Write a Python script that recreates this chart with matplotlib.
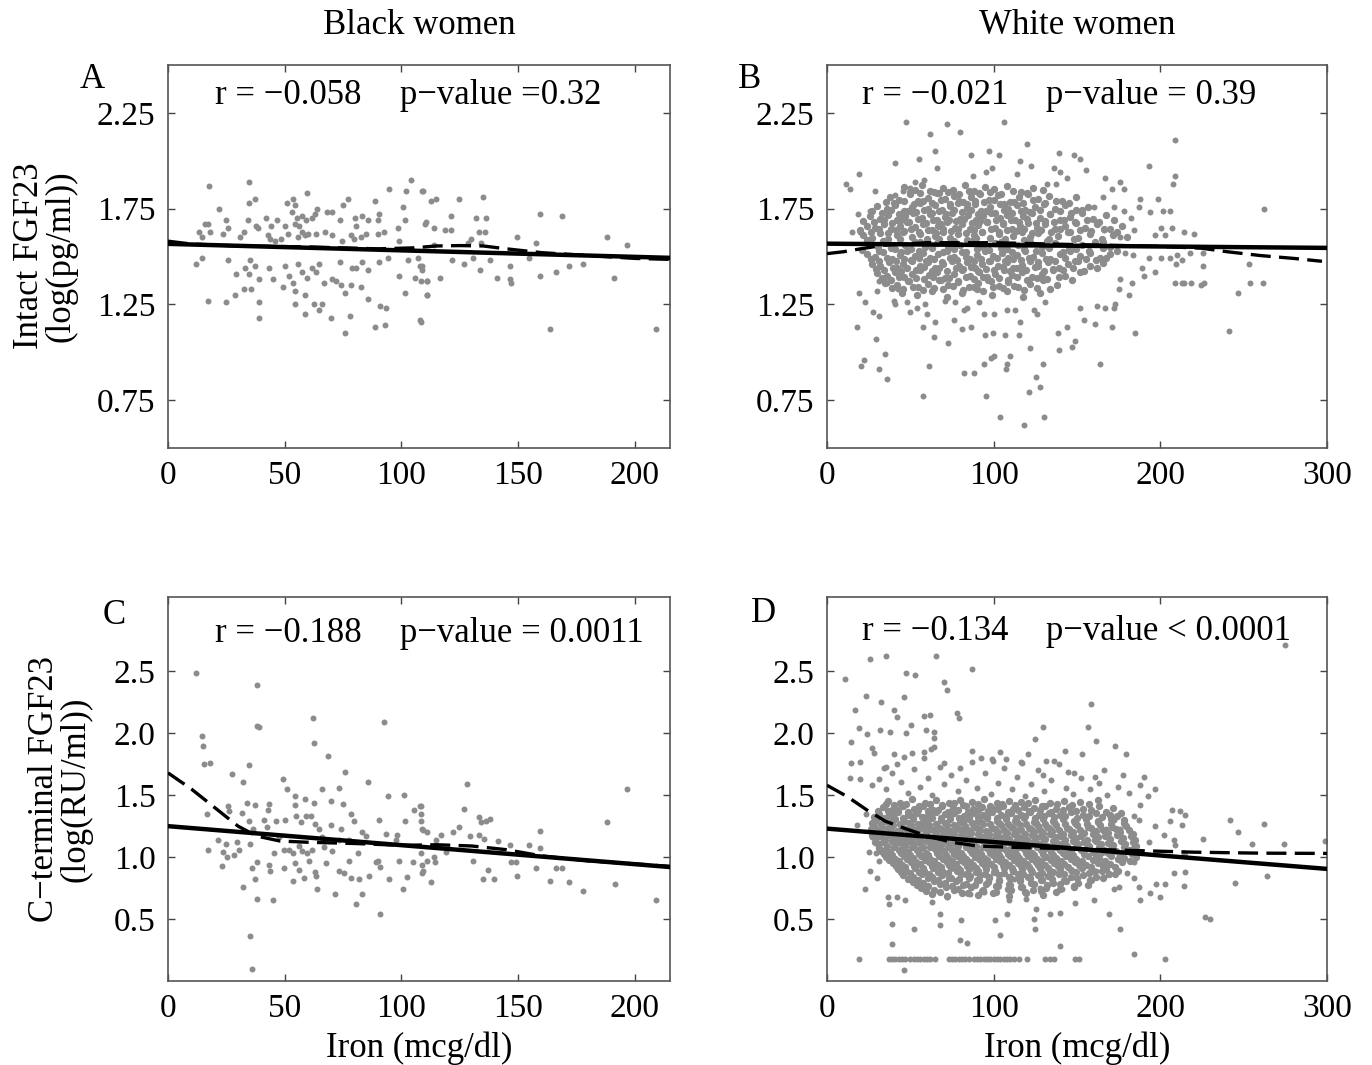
import numpy as np
import matplotlib
matplotlib.use("Agg")
import matplotlib.pyplot as plt

plt.rcParams["font.family"] = ["Liberation Serif", "DejaVu Serif"]
plt.rcParams["axes.unicode_minus"] = True

W, H = 1372, 1065

# ---- data (iron mcg/dl, log FGF23) ----
a_points = [
    (17.5, 1.87), (34.9, 1.89), (34.8, 1.78), (37.2, 1.80), (21.8, 1.75), (16, 1.67), (17, 1.67), (24.7, 1.69),
    (25.9, 1.65), (23.4, 1.62), (13.4, 1.63), (17.8, 1.63), (14.7, 1.60), (30.7, 1.60), (32.5, 1.63), (34.3, 1.69),
    (37.9, 1.66), (38.5, 1.65), (42, 1.70), (44, 1.66), (46.7, 1.69), (42.7, 1.61), (43.7, 1.59), (50, 1.66),
    (51, 1.78), (53.4, 1.80), (54.6, 1.77), (59.5, 1.83), (53.2, 1.73), (55.3, 1.70), (57.5, 1.71), (58.9, 1.69),
    (61.8, 1.70), (62.8, 1.72), (63.9, 1.75), (54.2, 1.67), (56.3, 1.66), (57.2, 1.63), (58.6, 1.61), (55.5, 1.60),
    (59.9, 1.62), (63.2, 1.62), (51.3, 1.62), (48.3, 1.59), (46, 1.58), (68.2, 1.73), (70.1, 1.73), (67.2, 1.63),
    (70.4, 1.61), (73.8, 1.69), (75, 1.77), (77.3, 1.80), (80, 1.70), (80.7, 1.66), (83, 1.71), (85.5, 1.69),
    (78.3, 1.61), (79.7, 1.59), (82.6, 1.60), (84.8, 1.62), (74.7, 1.58), (88.5, 1.79), (90.5, 1.72), (89.8, 1.69),
    (92.7, 1.63), (90.1, 1.62), (94.5, 1.85), (100.6, 1.76), (101.9, 1.84), (104, 1.90), (109.2, 1.84), (101.3, 1.69),
    (98.3, 1.65), (99.1, 1.58), (110.6, 1.68),
    (12.1, 1.46), (14.7, 1.49), (25.7, 1.48), (17, 1.27), (24.9, 1.26), (28.7, 1.30), (29.2, 1.41), (32.5, 1.33),
    (35.5, 1.33), (34.5, 1.41), (35.2, 1.48), (32.8, 1.44), (37.4, 1.45), (38.8, 1.38), (39.1, 1.26), (39.1, 1.18),
    (43.4, 1.44), (45, 1.38), (49.3, 1.34), (50.3, 1.45), (52, 1.40), (53.4, 1.36), (54.3, 1.32), (54.3, 1.25),
    (55.5, 1.46), (58.6, 1.30), (58.5, 1.20), (57.5, 1.42), (59.6, 1.39), (61.8, 1.44), (63.2, 1.42), (64.7, 1.46),
    (62.5, 1.25), (64.7, 1.22), (65.8, 1.25), (66.8, 1.36), (70, 1.18), (70.4, 1.38), (71.8, 1.37), (74.3, 1.35),
    (73.6, 1.47), (75.7, 1.31), (75.9, 1.10), (77.9, 1.19), (78.3, 1.35), (79, 1.44), (80.5, 1.44), (82.9, 1.47),
    (82.8, 1.34), (85.8, 1.43), (85.5, 1.28), (88.6, 1.13), (90.8, 1.24), (93.4, 1.23), (93.1, 1.14), (90.2, 1.47),
    (94.1, 1.49), (98.9, 1.40), (101.3, 1.31), (102.7, 1.48), (105.9, 1.39), (107, 1.49), (108, 1.45), (108.8, 1.43),
    (107.9, 1.17), (111, 1.37), (111, 1.30),
    (108.9, 1.84), (112.5, 1.79), (114.7, 1.80), (124.7, 1.80), (134.8, 1.81), (110.2, 1.67), (113.9, 1.65), (121, 1.71),
    (118.8, 1.64), (121.4, 1.64), (131.9, 1.70), (136.2, 1.70), (133.2, 1.63), (135.9, 1.63), (129.8, 1.59), (128.3, 1.57),
    (134.1, 1.57), (113.9, 1.56), (149.4, 1.60), (159.5, 1.72), (168.7, 1.71), (157.8, 1.57), (188.1, 1.60), (196.7, 1.56),
    (121.7, 1.48), (126.9, 1.46), (130.8, 1.49), (133.5, 1.43), (137.7, 1.48), (108.9, 1.45), (108.2, 1.37), (110.8, 1.37),
    (111.1, 1.30), (116.5, 1.39), (140.8, 1.39), (146.3, 1.45), (146.7, 1.36), (146.6, 1.38), (154.5, 1.49), (159.5, 1.40),
    (166.1, 1.42), (171.9, 1.45), (177.9, 1.46), (191.2, 1.39), (163.7, 1.12), (208.8, 1.12), (108.2, 1.16),
]

b_points = [
    (47.6, 2.20), (72, 2.19), (106, 2.20), (61.6, 2.14), (80, 2.15), (120, 2.09), (209, 2.11), (64.6, 2.05),
    (41, 1.99), (55.4, 2.01), (86.6, 2.03), (97, 2.05), (103.4, 2.03), (139, 2.04), (148.4, 2.03), (152, 2.01),
    (116, 2.00), (122.6, 1.97), (19.4, 1.93), (11.2, 1.88), (13.6, 1.85), (28.6, 1.84), (193.2, 1.97), (209, 1.92),
    (207.6, 1.88), (87.4, 1.92), (66, 1.96), (95.6, 1.94), (99, 1.96), (114, 1.93), (136, 1.96), (140, 1.94),
    (155.6, 1.95), (166.6, 1.91), (175.6, 1.89), (132, 1.88), (137.2, 1.88), (144, 1.91), (18.8, 1.72), (15, 1.63),
    (19.6, 1.63), (26, 1.74), (41, 1.82), (45.6, 1.84), (50, 1.86), (53, 1.89), (58, 1.90), (171, 1.85),
    (178, 1.85), (165.6, 1.81), (187.6, 1.80), (187, 1.76), (198.6, 1.80), (193.6, 1.73), (201.6, 1.74), (206, 1.74),
    (200.6, 1.65), (207, 1.65), (214, 1.63), (203, 1.61), (197, 1.61), (178, 1.74), (182.4, 1.70), (184, 1.64),
    (172, 1.76), (160, 1.76), (166, 1.64), (176, 1.60),
    (19.4, 1.31), (23, 1.26), (18, 1.13), (27.6, 1.21), (31, 1.19), (29.6, 1.07), (35, 0.99), (22.4, 0.96),
    (20.4, 0.93), (31.4, 0.91), (36.2, 0.86), (57.4, 0.77), (61, 0.93), (72.4, 1.05), (64, 1.08), (57.4, 1.13),
    (82, 0.89), (88, 0.89), (95.4, 0.77), (94, 0.94), (98.4, 0.97), (100, 0.98), (107.6, 0.91), (108, 0.94),
    (110, 0.98), (104, 0.66), (118, 0.62), (130.4, 0.66), (121.4, 0.79), (125.6, 0.87), (128, 0.82), (129.4, 0.94),
    (121.6, 1.02), (139, 1.01), (147, 1.03), (149, 1.06), (144, 1.13), (138.4, 1.10), (163.6, 0.94), (171.2, 1.13),
    (184.6, 1.10), (161, 1.15), (154, 1.17), (162, 1.24), (167, 1.23), (172.4, 1.23), (173, 1.25), (151.6, 1.23),
    (131, 1.26), (116, 1.16), (107, 1.09), (115, 1.09), (99.6, 1.10), (94.8, 1.09), (86.6, 1.13), (81, 1.12),
    (65, 1.16), (60, 1.20), (49.6, 1.21), (41, 1.25), (48, 1.26), (54, 1.23), (59, 1.25), (76, 1.17),
    (82, 1.22), (94, 1.20), (100, 1.20), (108, 1.22), (113, 1.22), (124, 1.22), (126, 1.20), (30, 1.32),
    (31.2, 1.37), (36, 1.36), (42.4, 1.33), (40, 1.27), (71, 1.27), (77, 1.26), (84, 1.23), (91, 1.26),
    (183, 1.36), (181, 1.30), (175, 1.33), (176, 1.38), (190, 1.40), (197, 1.42), (209, 1.36), (214.4, 1.36),
    (209.6, 1.46), (206, 1.49), (200.4, 1.49), (193, 1.49), (189, 1.44), (183.6, 1.51), (179, 1.52),
    (213, 1.36), (218.6, 1.36), (225.7, 1.45), (224.3, 1.35), (226, 1.36), (246.6, 1.31), (253, 1.46), (254, 1.36),
    (261.6, 1.36), (241, 1.11), (262, 1.75), (210, 1.51), (213, 1.48), (220, 1.62), (217.5, 1.52), (225.4, 1.52),
]

b_core = [
    (46.2, 1.862), (52.8, 1.848), (57.1, 1.871), (63.9, 1.839), (69.4, 1.858), (75.8, 1.846), (82.6, 1.874), (88.3, 1.842),
    (94.7, 1.861), (100.2, 1.851), (107.9, 1.868), (116.4, 1.838), (123.8, 1.857), (129.5, 1.846),
    (37.6, 1.812), (43.1, 1.797), (49.7, 1.824), (54.6, 1.789), (60.3, 1.808), (65.8, 1.829), (70.9, 1.801), (76.4, 1.818),
    (81.7, 1.786), (86.2, 1.812), (91.5, 1.826), (97.3, 1.796), (102.8, 1.819), (109.6, 1.787), (114.9, 1.809), (120.7, 1.828),
    (126.6, 1.798), (133.4, 1.816), (140.8, 1.791), (149.3, 1.809),
    (29.8, 1.762), (35.7, 1.748), (40.6, 1.771), (45.9, 1.739), (51.2, 1.758), (55.7, 1.779), (60.8, 1.746), (64.6, 1.768),
    (69.2, 1.741), (73.9, 1.762), (78.6, 1.781), (83.7, 1.751), (88.8, 1.772), (92.6, 1.738), (97.9, 1.757), (103.6, 1.776),
    (108.7, 1.749), (113.8, 1.769), (118.6, 1.743), (124.7, 1.761), (130.6, 1.779), (136.8, 1.748), (142.7, 1.768), (149.6, 1.742),
    (156.8, 1.759),
    (25.7, 1.712), (31.6, 1.698), (36.8, 1.719), (41.7, 1.691), (46.6, 1.709), (51.8, 1.728), (56.7, 1.702), (61.6, 1.721),
    (65.9, 1.688), (70.6, 1.707), (74.8, 1.727), (79.7, 1.697), (84.8, 1.716), (89.6, 1.689), (93.8, 1.711), (98.6, 1.729),
    (103.7, 1.699), (107.8, 1.718), (112.9, 1.692), (117.6, 1.709), (122.8, 1.726), (127.7, 1.701), (133.8, 1.721), (139.6, 1.689),
    (145.8, 1.708), (152.7, 1.728), (159.8, 1.698), (167.6, 1.716),
    (23.8, 1.661), (28.7, 1.649), (33.9, 1.672), (38.6, 1.641), (43.8, 1.659), (47.7, 1.679), (52.9, 1.652), (57.6, 1.668),
    (62.8, 1.639), (66.7, 1.661), (71.8, 1.681), (76.7, 1.648), (80.9, 1.671), (85.8, 1.642), (90.7, 1.662), (95.8, 1.678),
    (100.8, 1.651), (105.7, 1.672), (110.8, 1.641), (115.9, 1.658), (120.6, 1.677), (125.8, 1.649), (130.9, 1.668), (136.7, 1.642),
    (142.8, 1.661), (148.7, 1.679), (154.9, 1.651), (161.8, 1.669), (169.7, 1.643), (176.8, 1.661),
    (21.8, 1.612), (26.9, 1.598), (31.8, 1.621), (36.7, 1.589), (41.9, 1.611), (45.8, 1.629), (50.7, 1.602), (55.9, 1.618),
    (59.8, 1.591), (64.7, 1.609), (69.8, 1.627), (73.9, 1.597), (78.8, 1.619), (83.7, 1.588), (87.9, 1.611), (92.8, 1.628),
    (97.7, 1.599), (102.9, 1.617), (106.8, 1.592), (111.7, 1.608), (116.9, 1.626), (121.8, 1.601), (126.7, 1.621), (132.9, 1.589),
    (138.8, 1.609), (144.7, 1.627), (150.8, 1.598), (157.9, 1.618), (164.8, 1.591), (171.7, 1.612), (179.8, 1.602),
    (25.3, 1.562), (30.8, 1.548), (35.9, 1.571), (40.7, 1.541), (46.8, 1.559), (52.7, 1.578), (58.9, 1.551), (65.8, 1.569),
    (72.7, 1.542), (79.8, 1.561), (86.9, 1.579), (93.7, 1.549), (100.8, 1.568), (107.7, 1.539), (114.8, 1.558), (121.9, 1.577),
    (128.7, 1.549), (136.8, 1.571), (144.9, 1.541), (152.7, 1.562), (160.8, 1.578), (169.7, 1.551),
    (23.9, 1.512), (28.8, 1.498), (33.7, 1.521), (38.9, 1.489), (43.8, 1.509), (47.9, 1.528), (52.8, 1.501), (57.7, 1.519),
    (61.9, 1.491), (66.8, 1.511), (71.7, 1.529), (75.9, 1.499), (80.8, 1.521), (85.7, 1.488), (89.9, 1.509), (94.8, 1.528),
    (99.7, 1.502), (104.9, 1.519), (108.8, 1.491), (113.7, 1.508), (118.9, 1.527), (123.8, 1.498), (128.7, 1.518), (133.9, 1.489),
    (139.8, 1.511), (145.7, 1.529), (151.9, 1.501), (157.8, 1.519), (163.7, 1.492), (169.9, 1.512),
    (26.8, 1.461), (31.7, 1.449), (36.9, 1.472), (41.8, 1.439), (45.7, 1.461), (50.9, 1.478), (55.8, 1.451), (60.7, 1.469),
    (64.9, 1.441), (69.8, 1.459), (74.7, 1.479), (78.9, 1.448), (83.8, 1.471), (88.7, 1.442), (92.9, 1.461), (97.8, 1.477),
    (102.7, 1.452), (107.9, 1.469), (111.8, 1.439), (116.7, 1.458), (121.9, 1.478), (126.8, 1.449), (132.7, 1.471), (138.9, 1.441),
    (144.8, 1.462), (150.7, 1.479), (157.9, 1.451), (165.8, 1.468),
    (29.9, 1.412), (35.8, 1.398), (40.7, 1.421), (45.9, 1.391), (50.8, 1.409), (55.7, 1.428), (60.9, 1.401), (65.8, 1.419),
    (70.7, 1.389), (75.9, 1.411), (80.8, 1.429), (85.7, 1.398), (90.9, 1.418), (95.8, 1.392), (100.7, 1.409), (105.9, 1.427),
    (110.8, 1.401), (116.7, 1.421), (122.9, 1.391), (128.8, 1.408), (135.7, 1.428), (142.9, 1.399), (151.8, 1.419),
    (34.8, 1.362), (41.7, 1.349), (48.9, 1.371), (54.8, 1.341), (60.7, 1.359), (66.9, 1.378), (72.8, 1.351), (78.7, 1.369),
    (84.9, 1.342), (90.8, 1.361), (96.7, 1.379), (102.9, 1.348), (108.8, 1.368), (114.7, 1.341), (121.9, 1.359), (129.8, 1.378),
    (137.7, 1.351),
    (44.9, 1.311), (53.8, 1.298), (62.7, 1.321), (71.9, 1.289), (80.8, 1.309), (89.7, 1.328), (98.9, 1.301), (107.8, 1.318),
    (117.7, 1.291), (127.9, 1.309),
]

b_core_fill = [
    (49.5, 1.836), (55.9, 1.829), (61.7, 1.842), (67.3, 1.831), (72.8, 1.838), (79.1, 1.826), (85.4, 1.841), (91.2, 1.833),
    (97.8, 1.839), (104.3, 1.828), (111.6, 1.843), (119.9, 1.832),
    (35.1, 1.786), (40.4, 1.779), (46.2, 1.792), (52.1, 1.774), (57.6, 1.788), (63.2, 1.781), (68.4, 1.794), (73.6, 1.776),
    (79.2, 1.789), (84.1, 1.772), (88.9, 1.791), (94.3, 1.783), (100.1, 1.795), (106.2, 1.774), (112.3, 1.787), (117.8, 1.779),
    (123.7, 1.793), (130.1, 1.776), (137.2, 1.789), (145.1, 1.781),
    (27.1, 1.736), (32.9, 1.729), (38.1, 1.742), (43.3, 1.724), (48.4, 1.738), (53.6, 1.731), (58.2, 1.744), (62.7, 1.726),
    (67.1, 1.739), (71.5, 1.722), (76.3, 1.741), (81.2, 1.733), (86.1, 1.745), (90.7, 1.724), (95.3, 1.737), (100.6, 1.729),
    (106.1, 1.743), (111.2, 1.726), (116.2, 1.739), (121.6, 1.731), (127.7, 1.744), (133.8, 1.723), (139.7, 1.737), (146.1, 1.729),
    (153.2, 1.742),
    (21.3, 1.686), (28.2, 1.679), (34.1, 1.692), (39.2, 1.674), (44.2, 1.688), (49.1, 1.681), (54.3, 1.694), (59.1, 1.676),
    (63.8, 1.689), (68.2, 1.672), (73.2, 1.691), (77.1, 1.683), (82.3, 1.695), (87.1, 1.674), (91.9, 1.687), (96.2, 1.679),
    (101.3, 1.693), (105.8, 1.676), (110.4, 1.689), (115.3, 1.681), (120.2, 1.694), (125.3, 1.673), (130.6, 1.687), (136.2, 1.679),
    (142.4, 1.692), (149.3, 1.676), (156.2, 1.688), (163.4, 1.681), (172.1, 1.691),
    (19.9, 1.636), (26.3, 1.629), (31.2, 1.642), (36.3, 1.624), (41.1, 1.638), (45.9, 1.631), (50.3, 1.644), (55.2, 1.626),
    (60.4, 1.639), (65.1, 1.622), (69.3, 1.641), (74.2, 1.633), (78.6, 1.645), (83.3, 1.624), (88.2, 1.637), (93.1, 1.629),
    (98.3, 1.643), (103.2, 1.626), (108.2, 1.639), (113.3, 1.631), (118.4, 1.644), (123.2, 1.623), (128.3, 1.637), (134.1, 1.629),
    (139.7, 1.642), (145.8, 1.626), (151.6, 1.638), (158.3, 1.631), (166.2, 1.643), (174.1, 1.627),
    (24.2, 1.586), (33.4, 1.579), (43.9, 1.592), (55.6, 1.576), (67.2, 1.589), (76.3, 1.581), (89.6, 1.594), (104.3, 1.574),
    (118.2, 1.588), (132.1, 1.582), (148.2, 1.591), (165.3, 1.577),
    (21.1, 1.536), (31.2, 1.529), (38.2, 1.542), (44.1, 1.524), (50.3, 1.538), (55.2, 1.531), (62.9, 1.544), (69.3, 1.526),
    (76.2, 1.539), (83.4, 1.522), (90.1, 1.541), (97.2, 1.533), (104.1, 1.545), (111.2, 1.524), (118.3, 1.537), (125.4, 1.529),
    (133.2, 1.543), (141.3, 1.526), (149.1, 1.539), (157.2, 1.531), (165.3, 1.544), (174.2, 1.527),
    (26.3, 1.486), (31.3, 1.479), (36.2, 1.492), (41.3, 1.474), (46.1, 1.488), (50.2, 1.481), (55.3, 1.494), (59.6, 1.476),
    (64.3, 1.489), (69.1, 1.472), (73.6, 1.491), (78.2, 1.483), (83.1, 1.495), (87.9, 1.474), (92.2, 1.487), (97.3, 1.479),
    (102.1, 1.493), (106.8, 1.476), (111.3, 1.489), (116.2, 1.481), (121.3, 1.494), (126.4, 1.473), (131.2, 1.487), (136.7, 1.479),
    (142.6, 1.492), (148.7, 1.476), (155.1, 1.488), (161.2, 1.481), (167.3, 1.493),
    (29.2, 1.436), (34.1, 1.429), (39.3, 1.442), (44.1, 1.424), (48.2, 1.438), (53.3, 1.431), (58.1, 1.444), (62.8, 1.426),
    (67.3, 1.439), (72.2, 1.422), (77.1, 1.441), (81.3, 1.433), (86.2, 1.445), (90.8, 1.424), (95.3, 1.437), (100.2, 1.429),
    (105.3, 1.443), (109.7, 1.426), (114.2, 1.439), (119.3, 1.431), (124.6, 1.444), (130.2, 1.423), (135.8, 1.437), (141.7, 1.429),
    (147.8, 1.442), (154.3, 1.426), (161.9, 1.438),
    (33.2, 1.386), (38.3, 1.379), (43.2, 1.392), (48.3, 1.374), (53.2, 1.388), (58.3, 1.381), (63.4, 1.394), (68.2, 1.376),
    (73.3, 1.389), (78.3, 1.372), (83.2, 1.391), (88.3, 1.383), (93.4, 1.395), (98.2, 1.374), (103.3, 1.387), (108.4, 1.379),
    (113.7, 1.393), (119.8, 1.376), (125.9, 1.389), (132.2, 1.381), (139.3, 1.394), (147.2, 1.376),
    (39.2, 1.336), (45.3, 1.329), (51.8, 1.342), (57.6, 1.324), (63.9, 1.338), (69.8, 1.331), (75.7, 1.344), (81.8, 1.326),
    (87.9, 1.339), (93.8, 1.322), (99.7, 1.341), (105.8, 1.333), (111.9, 1.345), (118.2, 1.324), (125.8, 1.337), (133.6, 1.329),
]

c_points = [
    (12.1, 2.49), (38.2, 2.39), (38.2, 2.06), (39.1, 2.05), (62.2, 2.12), (62.6, 1.92), (92.7, 2.09), (14.5, 1.98),
    (14.8, 1.90), (15.5, 1.75), (17.8, 1.76), (34.6, 1.74), (68.4, 1.82), (75.9, 1.69), (27.4, 1.67), (32.2, 1.61),
    (49.4, 1.63), (51, 1.55), (65.8, 1.55), (73.3, 1.56), (85.6, 1.61), (94.3, 1.49), (101.1, 1.50), (54.3, 1.49),
    (58.6, 1.47), (62.6, 1.44), (70, 1.45), (74.9, 1.43), (25.7, 1.41), (26.3, 1.37), (16.8, 1.35), (31.9, 1.36),
    (33.9, 1.44), (37.2, 1.42), (43.1, 1.43), (42.8, 1.38), (41.1, 1.30), (34.5, 1.29), (36.5, 1.23), (42.4, 1.24),
    (46.3, 1.29), (50.3, 1.30), (54.6, 1.42), (54.9, 1.33), (56.8, 1.28), (58.9, 1.33), (61.1, 1.33), (62.9, 1.27),
    (64.7, 1.23), (69.8, 1.26), (74, 1.23), (78.3, 1.35), (79.7, 1.29), (82.9, 1.20), (90.5, 1.30), (93.4, 1.19),
    (98.1, 1.18), (101.7, 1.29), (105.3, 1.38), (108, 1.41), (108.5, 1.29), (109.2, 1.22), (21.4, 1.14), (17, 1.06),
    (24.9, 1.11), (23.7, 1.04), (25.1, 1.00), (23, 0.93), (29.5, 1.12), (30.6, 1.06), (28.2, 1.02), (35.2, 1.11),
    (35.8, 0.91), (32.2, 0.76), (37.2, 0.82), (38.2, 0.96), (38.1, 0.66), (45, 0.65), (43.1, 0.94), (43.8, 0.89),
    (45.3, 1.03), (49.6, 0.91), (49.6, 1.06), (51.7, 1.06), (53.4, 1.03), (56, 1.09), (57.5, 1.05), (59.6, 1.03),
    (61.5, 1.06), (54.3, 0.95), (56, 0.90), (53.6, 0.81), (58.3, 0.83), (60.3, 0.97), (62.8, 0.88), (63.9, 0.74),
    (63.6, 0.85), (66.8, 1.08), (67.5, 0.95), (71.6, 0.70), (70.4, 1.05), (73.3, 0.89), (75.4, 0.87), (77.6, 0.97),
    (78.3, 0.83), (81.2, 1.03), (81.9, 0.82), (83, 0.70), (80.7, 0.62), (85.9, 0.85), (89.1, 0.96), (89.8, 0.97),
    (90.8, 0.92), (90.8, 0.54), (94.5, 0.82), (98.9, 0.97), (100.6, 0.74), (102.3, 0.84), (104.9, 0.96), (109.2, 0.89),
    (35.1, 0.36), (35.9, 0.10), (77.6, 1.14), (84.8, 1.17), (47.4, 1.16), (66.1, 1.16), (97.7, 1.14), (73.3, 1.14),
    (108.2, 1.41), (108.2, 1.35), (108.9, 1.23), (110.8, 1.20), (108.2, 1.03), (108.9, 0.94), (108.9, 0.87), (111.1, 0.97),
    (113.9, 1.00), (114.2, 0.96), (112.5, 0.80), (114.7, 1.14), (116.8, 1.18), (119, 1.04), (121.9, 1.20), (124.7, 1.24),
    (126.9, 1.39), (128, 1.59), (129.5, 1.17), (130.8, 0.97), (133.3, 1.18), (133.3, 1.32), (134.1, 1.28), (136.2, 1.29),
    (138.1, 1.31), (135.5, 1.15), (137.2, 0.90), (134.8, 0.82), (139.8, 0.82), (141.5, 1.13), (146.6, 1.10), (147, 0.96),
    (148.9, 0.96), (149.6, 0.85), (154.5, 1.10), (159.5, 1.21), (159.5, 1.07), (157.8, 0.91), (163.5, 0.81), (166, 0.91),
    (168.8, 0.91), (171.9, 0.80), (177.9, 0.73), (188.1, 1.28), (191.3, 0.78), (196.7, 1.55), (208.8, 0.65),
]

d_points = [
    (11, 2.44), (26, 2.60), (35.2, 2.62), (65.6, 2.62), (87, 2.52), (47.6, 2.49), (53, 2.47), (70.4, 2.41),
    (72, 2.35), (23.4, 2.30), (32.6, 2.25), (46, 2.29), (16.8, 2.19), (40, 2.19), (42, 2.13), (58, 2.14),
    (61.6, 2.15), (78, 2.16), (79, 2.12), (19, 2.04), (24, 1.99), (31.6, 2.03), (38, 2.01), (47.4, 2.00),
    (50.4, 2.07), (59.2, 2.03), (64.4, 2.01), (64.4, 1.96), (14.4, 1.93), (26.8, 1.88), (28, 1.84), (35.6, 1.73),
    (34, 1.72), (40.4, 1.83), (46.4, 1.81), (51, 1.84), (58, 1.85), (64, 1.89), (70, 1.76), (14.4, 1.76),
    (19.6, 1.77), (14, 1.64), (19.6, 1.63), (87, 1.86), (104, 1.85), (125, 1.95), (129.6, 2.05), (156.6, 2.05),
    (158.4, 2.24), (142.6, 1.86), (153, 1.83), (161.2, 1.94), (172.6, 1.90), (179.6, 1.83), (92.6, 1.80), (99, 1.79),
    (107.4, 1.79), (116.4, 1.77), (131.6, 1.78), (136, 1.78), (148.4, 1.68), (161, 1.65), (177.6, 1.66), (190.4, 1.65),
    (188, 1.42), (207, 1.38), (211.6, 1.37), (215, 1.34), (206, 1.29), (197, 1.25), (202, 1.18), (213, 1.26),
    (208, 1.14), (209, 1.10), (214, 1.03), (193, 1.12), (187.4, 1.30), (184, 1.33), (178, 1.27), (176, 1.23),
    (172, 1.30), (167.6, 1.23), (160.4, 1.14), (165, 1.03), (161.6, 0.89), (166, 0.84), (172.4, 0.74), (175, 0.76),
    (180, 0.87), (184, 0.83), (187, 0.76), (184, 0.96), (188, 0.65), (194, 0.71), (197.6, 0.78), (203, 0.78),
    (199.6, 0.68), (208, 0.87), (214, 0.77), (176, 0.42), (184, 0.22), (203, 0.18), (169, 0.54), (160, 0.65),
    (149, 0.63), (140, 0.55), (139.6, 0.28), (133.6, 0.54), (125.2, 0.58), (124, 0.50), (125, 0.42), (108, 0.54),
    (104, 0.37), (101, 0.49), (84, 0.31), (80, 0.33), (80.4, 0.49), (68, 0.54), (67.6, 0.45), (52.4, 0.42),
    (39.2, 0.30), (39, 0.46), (46, 0.09), (37, 0.62), (36.6, 0.68), (42, 0.68), (47, 0.65), (23, 0.74),
    (30, 0.83), (26, 0.89), (25, 1.04), (29.4, 1.03), (31, 0.97), (27, 1.16), (28, 1.28), (23.4, 1.35),
    (18, 1.26), (63, 0.64), (72, 0.68), (86, 0.70), (94, 0.72), (109, 0.65), (119.6, 0.66), (112, 0.82),
    (128, 0.75), (141, 0.74), (148, 0.77),
    (275, 2.71), (225.6, 1.15), (242, 1.30), (246.5, 1.20), (255, 1.11), (262, 1.27), (245, 0.79), (264, 0.85),
    (274, 1.11), (299, 1.13), (227, 0.52), (230, 0.50), (215, 1.01), (215, 0.88),
    # values sitting at the assay floor
    (19, 0.18), (37, 0.18), (39, 0.18), (41, 0.18), (43, 0.18), (45, 0.18), (47, 0.18), (50, 0.18),
    (52, 0.18), (54, 0.18), (56, 0.18), (58, 0.18), (60, 0.18), (62, 0.18), (65, 0.18), (73, 0.18),
    (75, 0.18), (77, 0.18), (79, 0.18), (81, 0.18), (83, 0.18), (85, 0.18), (88, 0.18), (90, 0.18),
    (92, 0.18), (94, 0.18), (96, 0.18), (98, 0.18), (100, 0.18), (102, 0.18), (104, 0.18), (106, 0.18),
    (108, 0.18), (110, 0.18), (112, 0.18), (115, 0.18), (120, 0.18), (131, 0.18), (134, 0.18), (136, 0.18),
    (149, 0.18), (151, 0.18),
    (26.8, 1.58), (31.2, 1.63), (35.4, 1.55), (38.7, 1.68), (44.2, 1.61), (48.6, 1.52), (52.3, 1.71), (55.8, 1.57),
    (60.7, 1.64), (63.2, 1.50), (67.9, 1.73), (70.4, 1.59), (74.6, 1.66), (78.3, 1.53), (83.1, 1.62), (86.7, 1.77),
    (90.2, 1.56), (94.8, 1.68), (98.1, 1.51), (102.6, 1.60), (106.3, 1.72), (110.8, 1.55), (114.2, 1.65), (118.7, 1.49),
    (122.3, 1.59), (126.8, 1.70), (130.1, 1.53), (134.6, 1.62), (138.9, 1.75), (143.2, 1.56), (147.7, 1.51), (152.1, 1.64),
    (157.6, 1.55), (163.4, 1.60), (168.2, 1.50), (174.7, 1.57), (181.3, 1.52), (187.9, 1.58), (192.4, 1.49), (196.7, 1.55),
    (42.1, 1.75), (57.9, 1.80), (79.6, 1.72), (99.4, 1.78), (117.2, 1.76), (129.7, 1.66), (144.8, 1.69), (165.9, 1.70),
    (120.5, 1.83), (62.4, 1.87),
]

d_core = [
    (36.4, 1.452), (43.8, 1.437), (51.2, 1.466), (58.7, 1.441), (65.3, 1.458), (72.9, 1.433), (79.6, 1.462), (86.8, 1.447),
    (94.2, 1.469), (101.7, 1.438), (108.9, 1.455), (116.3, 1.442), (124.8, 1.464), (133.6, 1.436), (142.1, 1.457), (151.7, 1.444),
    (162.4, 1.461),
    (33.7, 1.402), (39.8, 1.388), (45.6, 1.414), (51.9, 1.391), (57.4, 1.409), (63.8, 1.384), (69.2, 1.412), (75.7, 1.396),
    (81.3, 1.418), (87.6, 1.389), (93.1, 1.405), (99.8, 1.392), (105.4, 1.416), (111.7, 1.387), (117.9, 1.408), (124.2, 1.394),
    (130.8, 1.413), (137.6, 1.386), (145.3, 1.404), (153.8, 1.391), (163.2, 1.411), (171.6, 1.397),
    (31.2, 1.352), (36.9, 1.338), (42.4, 1.361), (48.7, 1.341), (54.1, 1.357), (59.8, 1.334), (65.3, 1.363), (70.9, 1.346),
    (76.4, 1.359), (82.1, 1.336), (87.8, 1.354), (93.4, 1.342), (98.9, 1.366), (104.6, 1.339), (110.3, 1.356), (116.1, 1.344),
    (121.7, 1.362), (127.4, 1.337), (133.2, 1.355), (139.6, 1.343), (146.1, 1.361), (153.4, 1.338), (161.2, 1.356), (169.8, 1.341),
    (176.4, 1.359),
    (29.6, 1.302), (35.4, 1.288), (40.8, 1.311), (46.2, 1.291), (51.7, 1.309), (57.3, 1.284), (62.8, 1.313), (68.4, 1.296),
    (73.9, 1.308), (79.5, 1.286), (85.1, 1.304), (90.6, 1.292), (96.2, 1.316), (101.8, 1.289), (107.3, 1.306), (112.9, 1.294),
    (118.4, 1.312), (124.1, 1.287), (129.7, 1.305), (135.6, 1.293), (141.8, 1.311), (148.3, 1.288), (155.2, 1.306), (162.7, 1.291),
    (170.4, 1.309), (178.1, 1.296),
    (28.3, 1.252), (33.8, 1.238), (39.3, 1.261), (44.7, 1.241), (50.2, 1.257), (55.6, 1.234), (61.1, 1.263), (66.5, 1.246),
    (71.9, 1.259), (77.4, 1.236), (82.8, 1.254), (88.3, 1.242), (93.7, 1.266), (99.2, 1.239), (104.6, 1.256), (110.1, 1.244),
    (115.5, 1.262), (120.9, 1.237), (126.4, 1.255), (131.8, 1.243), (137.6, 1.261), (143.7, 1.238), (150.1, 1.256), (156.8, 1.241),
    (163.9, 1.259), (171.2, 1.246), (179.3, 1.254),
    (27.9, 1.202), (33.2, 1.188), (38.6, 1.211), (43.9, 1.191), (49.3, 1.209), (54.6, 1.184), (59.9, 1.213), (65.3, 1.196),
    (70.6, 1.208), (75.9, 1.186), (81.3, 1.204), (86.6, 1.192), (91.9, 1.216), (97.3, 1.189), (102.6, 1.206), (107.9, 1.194),
    (113.3, 1.212), (118.6, 1.187), (123.9, 1.205), (129.4, 1.193), (135.2, 1.211), (141.3, 1.188), (147.6, 1.206), (154.2, 1.191),
    (161.1, 1.209), (168.4, 1.196), (175.9, 1.204), (183.6, 1.189),
    (29.4, 1.152), (34.7, 1.138), (40.1, 1.161), (45.4, 1.141), (50.7, 1.157), (56.1, 1.134), (61.4, 1.163), (66.7, 1.146),
    (72.1, 1.159), (77.4, 1.136), (82.7, 1.154), (88.1, 1.142), (93.4, 1.166), (98.7, 1.139), (104.1, 1.156), (109.4, 1.144),
    (114.7, 1.162), (120.1, 1.137), (125.4, 1.155), (130.9, 1.143), (136.7, 1.161), (142.8, 1.138), (149.1, 1.156), (155.7, 1.141),
    (162.6, 1.159), (169.8, 1.146), (177.3, 1.154), (184.9, 1.139),
    (30.8, 1.102), (36.1, 1.088), (41.4, 1.111), (46.7, 1.091), (52.1, 1.109), (57.4, 1.084), (62.7, 1.113), (68.1, 1.096),
    (73.4, 1.108), (78.7, 1.086), (84.1, 1.104), (89.4, 1.092), (94.7, 1.116), (100.1, 1.089), (105.4, 1.106), (110.7, 1.094),
    (116.1, 1.112), (121.4, 1.087), (126.7, 1.105), (132.2, 1.093), (138.1, 1.111), (144.2, 1.088), (150.6, 1.106), (157.3, 1.091),
    (164.2, 1.109), (171.4, 1.096), (178.8, 1.104), (185.6, 1.089),
    (32.6, 1.052), (37.9, 1.038), (43.2, 1.061), (48.6, 1.041), (53.9, 1.057), (59.2, 1.034), (64.6, 1.063), (69.9, 1.046),
    (75.2, 1.059), (80.6, 1.036), (85.9, 1.054), (91.2, 1.042), (96.6, 1.066), (101.9, 1.039), (107.2, 1.056), (112.6, 1.044),
    (117.9, 1.062), (123.2, 1.037), (128.6, 1.055), (134.1, 1.043), (139.9, 1.061), (146.1, 1.038), (152.6, 1.056), (159.4, 1.041),
    (166.3, 1.059), (173.6, 1.046), (181.2, 1.054),
    (35.3, 1.002), (40.6, 0.988), (45.9, 1.011), (51.3, 0.991), (56.6, 1.009), (61.9, 0.984), (67.3, 1.013), (72.6, 0.996),
    (77.9, 1.008), (83.3, 0.986), (88.6, 1.004), (93.9, 0.992), (99.3, 1.016), (104.6, 0.989), (109.9, 1.006), (115.3, 0.994),
    (120.6, 1.012), (125.9, 0.987), (131.4, 1.005), (137.1, 0.993), (143.2, 1.011), (149.6, 0.988), (156.3, 1.006), (163.2, 0.991),
    (170.6, 1.009), (178.4, 0.996), (185.2, 1.004),
    (39.8, 0.952), (45.1, 0.938), (50.4, 0.961), (55.8, 0.941), (61.1, 0.957), (66.4, 0.934), (71.8, 0.963), (77.1, 0.946),
    (82.4, 0.959), (87.8, 0.936), (93.1, 0.954), (98.4, 0.942), (103.8, 0.966), (109.1, 0.939), (114.4, 0.956), (119.8, 0.944),
    (125.1, 0.962), (130.6, 0.937), (136.3, 0.955), (142.4, 0.943), (148.7, 0.961), (155.4, 0.938), (162.3, 0.956), (169.6, 0.941),
    (177.2, 0.959),
    (42.3, 0.902), (47.6, 0.888), (52.9, 0.911), (58.3, 0.891), (63.6, 0.909), (68.9, 0.884), (74.3, 0.913), (79.6, 0.896),
    (84.9, 0.908), (90.3, 0.886), (95.6, 0.904), (100.9, 0.892), (106.3, 0.916), (111.6, 0.889), (116.9, 0.906), (122.3, 0.894),
    (127.8, 0.912), (133.6, 0.887), (139.7, 0.905), (146.1, 0.893), (152.8, 0.911), (159.7, 0.888), (167.1, 0.906), (174.6, 0.891),
    (45.6, 0.852), (51.4, 0.838), (57.2, 0.861), (62.9, 0.841), (68.7, 0.857), (74.4, 0.834), (80.2, 0.863), (85.9, 0.846),
    (91.7, 0.859), (97.4, 0.836), (103.2, 0.854), (108.9, 0.842), (114.7, 0.866), (120.4, 0.839), (126.3, 0.856), (132.6, 0.844),
    (139.2, 0.862), (146.3, 0.837), (153.8, 0.855), (161.4, 0.843), (169.2, 0.861),
    (51.3, 0.802), (57.8, 0.788), (64.2, 0.811), (70.7, 0.791), (77.1, 0.809), (83.6, 0.784), (90.1, 0.813), (96.5, 0.796),
    (102.9, 0.808), (109.4, 0.786), (115.8, 0.804), (122.3, 0.792), (128.9, 0.816), (135.8, 0.789), (143.1, 0.806), (150.7, 0.794),
    (158.6, 0.812),
    (56.4, 0.752), (63.9, 0.738), (71.3, 0.761), (78.8, 0.741), (86.2, 0.757), (93.7, 0.734), (101.1, 0.763), (108.6, 0.746),
    (116.1, 0.759), (123.7, 0.736), (131.6, 0.754), (139.8, 0.742), (148.3, 0.761),
    (62.7, 0.702), (71.9, 0.688), (81.2, 0.711), (90.6, 0.691), (99.8, 0.709), (109.3, 0.684), (119.1, 0.713), (129.4, 0.696),
]

d_core_fill = [
    (35.1, 1.426), (40.2, 1.419), (47.6, 1.432), (54.9, 1.414), (61.8, 1.428), (69.2, 1.421), (76.3, 1.434), (83.1, 1.416),
    (90.5, 1.429), (97.9, 1.412), (105.2, 1.431), (112.6, 1.423), (120.4, 1.435), (129.1, 1.414), (137.8, 1.427), (146.9, 1.419),
    (156.9, 1.432),
    (30.6, 1.376), (36.8, 1.369), (42.7, 1.382), (48.8, 1.364), (54.6, 1.378), (60.6, 1.371), (66.5, 1.384), (72.4, 1.366),
    (78.5, 1.379), (84.4, 1.362), (90.4, 1.381), (96.5, 1.373), (102.6, 1.385), (108.5, 1.364), (114.8, 1.377), (121.1, 1.369),
    (127.5, 1.383), (134.2, 1.366), (141.4, 1.379), (149.6, 1.371), (158.4, 1.384), (167.3, 1.367),
    (28.2, 1.326), (34.1, 1.319), (39.6, 1.332), (45.5, 1.314), (51.4, 1.328), (57.1, 1.321), (62.6, 1.334), (68.1, 1.316),
    (73.6, 1.329), (79.3, 1.312), (84.9, 1.331), (90.5, 1.323), (96.1, 1.335), (101.7, 1.314), (107.5, 1.327), (113.2, 1.319),
    (118.9, 1.333), (124.6, 1.316), (130.4, 1.329), (136.4, 1.321), (142.9, 1.334), (149.8, 1.317), (157.3, 1.329), (165.2, 1.321),
    (173.7, 1.333),
    (26.9, 1.276), (32.6, 1.269), (38.1, 1.282), (43.5, 1.264), (49.0, 1.278), (54.4, 1.271), (59.8, 1.284), (65.2, 1.266),
    (70.6, 1.279), (76.1, 1.262), (81.5, 1.281), (86.9, 1.273), (92.3, 1.285), (97.7, 1.264), (103.2, 1.277), (108.6, 1.269),
    (114.1, 1.283), (119.5, 1.266), (125.1, 1.279), (130.6, 1.271), (136.4, 1.284), (142.5, 1.267), (148.9, 1.279), (155.7, 1.271),
    (162.8, 1.284), (170.3, 1.267), (177.9, 1.279),
    (26.1, 1.226), (31.2, 1.219), (36.6, 1.232), (41.9, 1.214), (47.3, 1.228), (52.6, 1.221), (57.9, 1.234), (63.3, 1.216),
    (68.6, 1.229), (73.9, 1.212), (79.3, 1.231), (84.6, 1.223), (89.9, 1.235), (95.3, 1.214), (100.6, 1.227), (105.9, 1.219),
    (111.3, 1.233), (116.6, 1.216), (122.1, 1.229), (127.6, 1.221), (133.3, 1.234), (139.2, 1.217), (145.3, 1.229), (151.7, 1.221),
    (158.4, 1.234), (165.6, 1.217), (173.2, 1.229), (181.1, 1.221),
    (27.2, 1.176), (32.1, 1.169), (37.4, 1.182), (42.7, 1.164), (48.1, 1.178), (53.4, 1.171), (58.7, 1.184), (64.1, 1.166),
    (69.4, 1.179), (74.7, 1.162), (80.1, 1.181), (85.4, 1.173), (90.7, 1.185), (96.1, 1.164), (101.4, 1.177), (106.7, 1.169),
    (112.1, 1.183), (117.4, 1.166), (122.8, 1.179), (128.2, 1.171), (133.9, 1.184), (139.8, 1.167), (146.1, 1.179), (152.6, 1.171),
    (159.4, 1.184), (166.7, 1.167), (174.2, 1.179), (182.1, 1.171),
    (28.8, 1.126), (33.4, 1.119), (38.7, 1.132), (44.1, 1.114), (49.4, 1.128), (54.7, 1.121), (60.1, 1.134), (65.4, 1.116),
    (70.7, 1.129), (76.1, 1.112), (81.4, 1.131), (86.7, 1.123), (92.1, 1.135), (97.4, 1.114), (102.7, 1.127), (108.1, 1.119),
    (113.4, 1.133), (118.7, 1.116), (124.1, 1.129), (129.6, 1.121), (135.4, 1.134), (141.4, 1.117), (147.8, 1.129), (154.4, 1.121),
    (161.3, 1.134), (168.6, 1.117), (176.1, 1.129), (183.4, 1.121),
    (31.2, 1.076), (35.1, 1.069), (40.4, 1.082), (45.7, 1.064), (51.1, 1.078), (56.4, 1.071), (61.7, 1.084), (67.1, 1.066),
    (72.4, 1.079), (77.7, 1.062), (83.1, 1.081), (88.4, 1.073), (93.7, 1.085), (99.1, 1.064), (104.4, 1.077), (109.7, 1.069),
    (115.1, 1.083), (120.4, 1.066), (125.8, 1.079), (131.3, 1.071), (137.1, 1.084), (143.2, 1.067), (149.6, 1.079), (156.2, 1.071),
    (163.1, 1.084), (170.4, 1.067), (177.9, 1.079), (184.2, 1.071),
    (33.9, 1.026), (39.1, 1.019), (44.3, 1.032), (49.7, 1.014), (55.1, 1.028), (60.4, 1.021), (65.7, 1.034), (71.1, 1.016),
    (76.4, 1.029), (81.7, 1.012), (87.1, 1.031), (92.4, 1.023), (97.7, 1.035), (103.1, 1.014), (108.4, 1.027), (113.7, 1.019),
    (119.1, 1.033), (124.4, 1.016), (129.8, 1.029), (135.4, 1.021), (141.3, 1.034), (147.6, 1.017), (154.2, 1.029), (161.1, 1.021),
    (168.3, 1.034), (175.8, 1.017), (183.1, 1.029),
    (37.4, 0.976), (42.9, 0.969), (48.2, 0.982), (53.6, 0.964), (58.9, 0.978), (64.2, 0.971), (69.6, 0.984), (74.9, 0.966),
    (80.2, 0.979), (85.6, 0.962), (90.9, 0.981), (96.2, 0.973), (101.6, 0.985), (106.9, 0.964), (112.2, 0.977), (117.6, 0.969),
    (122.9, 0.983), (128.4, 0.966), (134.1, 0.979), (140.1, 0.971), (146.3, 0.984), (152.8, 0.967), (159.6, 0.979), (166.8, 0.971),
    (174.3, 0.984), (181.6, 0.967),
    (41.2, 0.926), (46.7, 0.919), (52.1, 0.932), (57.4, 0.914), (62.7, 0.928), (68.1, 0.921), (73.4, 0.934), (78.7, 0.916),
    (84.1, 0.929), (89.4, 0.912), (94.7, 0.931), (100.1, 0.923), (105.4, 0.935), (110.7, 0.914), (116.1, 0.927), (121.4, 0.919),
    (126.8, 0.933), (132.4, 0.916), (138.3, 0.929), (144.6, 0.921), (151.2, 0.934), (158.1, 0.917), (165.4, 0.929), (172.9, 0.921),
    (44.2, 0.876), (49.8, 0.869), (55.4, 0.882), (61.1, 0.864), (66.7, 0.878), (72.3, 0.871), (77.9, 0.884), (83.6, 0.866),
    (89.2, 0.879), (94.8, 0.862), (100.4, 0.881), (106.1, 0.873), (111.7, 0.885), (117.4, 0.864), (123.1, 0.877), (129.2, 0.869),
    (135.6, 0.883), (142.4, 0.866), (149.6, 0.879), (157.2, 0.871), (165.1, 0.884), (172.6, 0.867),
    (48.6, 0.826), (54.6, 0.819), (60.7, 0.832), (66.8, 0.814), (72.9, 0.828), (78.9, 0.821), (85.1, 0.834), (91.2, 0.816),
    (97.3, 0.829), (103.4, 0.812), (109.5, 0.831), (115.7, 0.823), (121.9, 0.835), (128.4, 0.814), (135.2, 0.827), (142.3, 0.819),
    (149.8, 0.833), (157.6, 0.816), (165.4, 0.829),
    (53.9, 0.776), (60.8, 0.769), (67.8, 0.782), (74.7, 0.764), (81.6, 0.778), (88.6, 0.771), (95.6, 0.784), (102.6, 0.766),
    (109.6, 0.779), (116.7, 0.762), (124.1, 0.781), (131.8, 0.773), (139.7, 0.785), (148.1, 0.764), (156.4, 0.777),
    (59.6, 0.726), (67.9, 0.719), (76.3, 0.732), (84.7, 0.714), (93.2, 0.728), (101.6, 0.721), (110.2, 0.734), (118.9, 0.716),
    (128.1, 0.729), (137.6, 0.721),
]

# fitted lines: linear fit (solid) and smoothed curve (dashed)
a_fit_x, a_fit_y = [0, 215], [1.566, 1.493]
a_smooth_x = [0, 10, 30, 60, 90, 105, 115, 125, 135, 145, 160, 180, 200, 215]
a_smooth_y = [1.58, 1.565, 1.555, 1.55, 1.54, 1.545, 1.555, 1.557, 1.555, 1.54, 1.52, 1.505, 1.49, 1.485]

b_fit_x, b_fit_y = [0, 300], [1.567, 1.545]
b_smooth_x = [0, 10, 20, 35, 60, 100, 150, 200, 225, 240, 260, 280, 297]
b_smooth_y = [1.515, 1.525, 1.54, 1.56, 1.572, 1.572, 1.562, 1.553, 1.543, 1.525, 1.505, 1.49, 1.475]

c_fit_x, c_fit_y = [0, 215], [1.25, 0.92]
c_smooth_x = [0, 10, 20, 30, 38, 48, 60, 80, 100, 115, 130, 145, 160, 180, 200, 215]
c_smooth_y = [1.68, 1.55, 1.40, 1.25, 1.17, 1.13, 1.12, 1.11, 1.095, 1.10, 1.09, 1.06, 1.01, 0.97, 0.945, 0.925]

d_fit_x, d_fit_y = [0, 300], [1.23, 0.905]
d_smooth_x = [0, 12, 24, 35, 46, 60, 75, 90, 110, 140, 180, 220, 260, 300]
d_smooth_y = [1.58, 1.49, 1.38, 1.29, 1.235, 1.17, 1.12, 1.09, 1.08, 1.07, 1.055, 1.04, 1.032, 1.03]

r_labels = ["r = \u22120.058", "r = \u22120.021", "r = \u22120.188", "r = \u22120.134"]
p_labels = ["p\u2212value =0.32", "p\u2212value = 0.39", "p\u2212value = 0.0011", "p\u2212value < 0.0001"]
panel_letters = ["A", "B", "C", "D"]

FS = 25
TICK_FS = 24
DOT = (0.55, 0.55, 0.55)


def fx(x):
    return x / W


def fy(y):
    return 1 - y / H


fig = plt.figure(figsize=(W / 100, H / 100), dpi=100)

boxes = [
    [fx(168), fy(448), fx(502), 383 / H],
    [fx(827), fy(448), fx(500), 383 / H],
    [fx(168), fy(981), fx(502), 384 / H],
    [fx(827), fy(981), fx(500), 384 / H],
]
panels = [
    (a_points, [], a_fit_x, a_fit_y, a_smooth_x, a_smooth_y, 215),
    (b_points, b_core + b_core_fill, b_fit_x, b_fit_y, b_smooth_x, b_smooth_y, 300),
    (c_points, [], c_fit_x, c_fit_y, c_smooth_x, c_smooth_y, 215),
    (d_points, d_core + d_core_fill, d_fit_x, d_fit_y, d_smooth_x, d_smooth_y, 300),
]

for i, (box, (pts, core, lx, ly, sx, sy, xmax)) in enumerate(zip(boxes, panels)):
    ax = fig.add_axes(box)
    pts = np.array(pts)
    ax.plot(pts[:, 0], pts[:, 1], "o", ms=4.3, mew=0, color=DOT, zorder=2)
    if core:
        core = np.array(core)
        # crowded centre of the cloud: dots merge into a solid patch
        ax.plot(core[:, 0], core[:, 1], "o", ms=5.3, mew=0, color=DOT, zorder=2)
    ax.plot(lx, ly, "-", color="black", lw=3.2, zorder=3)
    ax.plot(sx, sy, color="black", lw=2.4, linestyle=(0, (6, 2.5)), zorder=4)

    ax.set_xlim(0, xmax)
    if xmax == 215:
        ax.set_xticks([0, 50, 100, 150, 200])
    else:
        ax.set_xticks([0, 100, 200, 300])
    if i < 2:
        ax.set_ylim(0.5, 2.5)
        ax.set_yticks([0.75, 1.25, 1.75, 2.25])
        ax.set_yticklabels(["0.75", "1.25", "1.75", "2.25"])
    else:
        ax.set_ylim(0, 3.1)
        ax.set_yticks([0.5, 1.0, 1.5, 2.0, 2.5])
        ax.set_yticklabels(["0.5", "1.0", "1.5", "2.0", "2.5"])

    ax.tick_params(direction="in", length=5, width=1, top=True, right=True,
                   labelsize=TICK_FS, pad=9, color="#444444")
    for s in ax.spines.values():
        s.set_color("#555555")
        s.set_linewidth(1.2)

# r and p annotations
r_x = [215, 862, 215, 862]
p_x = [400, 1046, 400, 1046]
txt_y = [96, 96, 634, 632]
for i in range(4):
    fig.text(fx(r_x[i]), fy(txt_y[i]), r_labels[i], fontsize=FS, ha="left", va="center")
    fig.text(fx(p_x[i]), fy(txt_y[i]), p_labels[i], fontsize=FS, ha="left", va="center")

let_pos = [(92, 80), (750, 80), (114, 616), (763, 614)]
for (px, py), lab in zip(let_pos, panel_letters):
    fig.text(fx(px), fy(py), lab, fontsize=FS, ha="center", va="center")

fig.text(fx(419), fy(26), "Black women", fontsize=FS, ha="center", va="center")
fig.text(fx(1077), fy(26), "White women", fontsize=FS, ha="center", va="center")

fig.text(fx(45), fy(256), "Intact FGF23\n(log(pg/ml))", fontsize=FS, rotation=90,
         ha="center", va="center", multialignment="center", linespacing=0.95)
fig.text(fx(60), fy(789), "C\u2212terminal FGF23\n(log(RU/ml))", fontsize=FS, rotation=90,
         ha="center", va="center", multialignment="center", linespacing=0.95)

fig.text(fx(419), fy(1048), "Iron (mcg/dl)", fontsize=FS, ha="center", va="center")
fig.text(fx(1077), fy(1048), "Iron (mcg/dl)", fontsize=FS, ha="center", va="center")

fig.savefig("out.png", dpi=100)
